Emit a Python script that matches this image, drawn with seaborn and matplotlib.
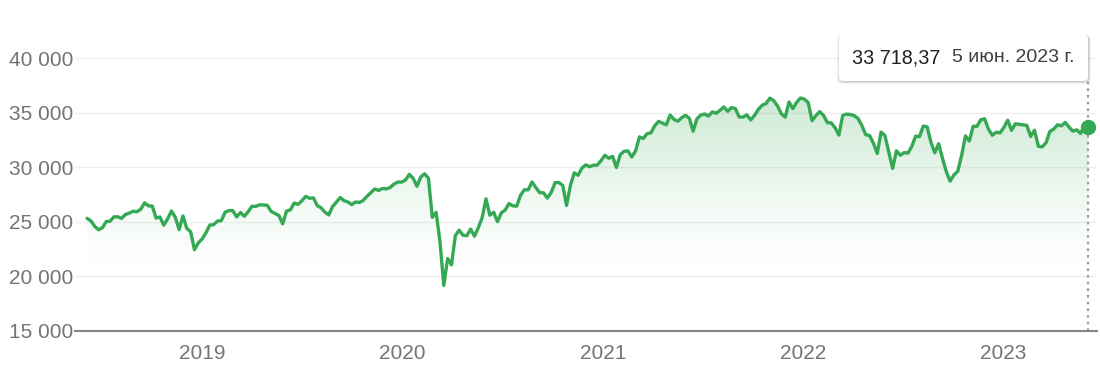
import numpy as np
import pandas as pd
import matplotlib.pyplot as plt
import matplotlib.dates as mdates
from matplotlib.colors import to_rgb
from matplotlib.patches import FancyBboxPatch
from matplotlib.ticker import FuncFormatter
from matplotlib.transforms import IdentityTransform
import seaborn as sns

# weekly closes, one value per Monday starting at start_week
start_week = '2018-06-04'
dow_2018 = [25317, 25090, 24581, 24271, 24456, 25019, 25058, 25451, 25463, 25313,
            25669, 25790, 25965, 25917, 26154, 26743, 26458, 26447, 25340, 25444,
            24688, 25271, 25989, 25413, 24286, 25538, 24389, 24101, 22445, 23062, 23433]
dow_2019 = [23996, 24706, 24737, 25064, 25106, 25883, 26031, 26026, 25450, 25849,
            25502, 25929, 26425, 26412, 26559, 26543, 26505, 25942, 25764, 25586,
            24815, 25984, 26090, 26719, 26600, 26922, 27332, 27154, 27192, 26485,
            26287, 25886, 25629, 26403, 26797, 27220, 26935, 26820, 26573, 26817,
            26770, 26958, 27347, 27681, 28005, 27876, 28051, 28015, 28135, 28455,
            28645, 28634]
dow_2020 = [28823, 29348, 28990, 28256, 29102, 29398, 28992, 25409, 25865, 23186,
            19174, 21637, 21053, 23719, 24242, 23775, 23724, 24331, 23685, 24465,
            25383, 27111, 25606, 25871, 25016, 25827, 26075, 26672, 26470, 26428,
            27433, 27931, 27930, 28654, 28133, 27666, 27657, 27174, 27683, 28586,
            28606, 28335, 26502, 28323, 29479, 29263, 29910, 30218, 30046, 30179,
            30199, 30606]
dow_2021 = [31097, 30814, 30997, 29983, 31148, 31458, 31494, 30932, 31496, 32779,
            32628, 33073, 33153, 33801, 34200, 34043, 33875, 34778, 34382, 34208,
            34529, 34756, 34480, 33290, 34433, 34786, 34870, 34688, 35062, 34935,
            35209, 35515, 35120, 35456, 35369, 34608, 34584, 34798, 34326, 34746,
            35295, 35677, 35820, 36328, 36100, 35602, 34899, 34580, 35971, 35365,
            35951, 36338]
dow_2022 = [36231, 35912, 34265, 34725, 35089, 34738, 34079, 34059, 33615, 32944,
            34755, 34861, 34818, 34721, 34451, 33811, 32977, 32899, 32197, 31262,
            33213, 32900, 31393, 29889, 31501, 31097, 31338, 31289, 31900, 32845,
            32803, 33761, 33707, 32283, 31318, 32152, 30822, 29590, 28726, 29297,
            29635, 31083, 32862, 32403, 33748, 33746, 34347, 34430, 33477, 32921,
            33204, 33147]
dow_2023 = [33631, 34303, 33375, 33978, 33926, 33869, 33827, 32817, 33391, 31910,
            31862, 32238, 33274, 33486, 33887, 33787, 34098, 33674, 33301, 33427,
            33093, 33762, 33718.37]

y_ticks = [15000, 20000, 25000, 30000, 35000, 40000]
tip_value = '33 718,37'
tip_date = '5 июн. 2023 г.'

green = '#34a853'
values = dow_2018 + dow_2019 + dow_2020 + dow_2021 + dow_2022 + dow_2023
df = pd.DataFrame({'date': pd.date_range(start_week, periods=len(values), freq='W-MON'),
                   'close': values})

sns.set_style('white')
plt.rcParams['font.family'] = ['Liberation Sans', 'DejaVu Sans']

W, H = 1100, 376
fig = plt.figure(figsize=(W / 100, H / 100), dpi=100)
ax = fig.add_axes([75 / W, 1 - 331 / H, 1022 / W, 311 / H])

sns.lineplot(data=df, x='date', y='close', color=green, linewidth=2.4, ax=ax, zorder=3)
ax.set_xlim(pd.Timestamp('2018-05-13'), pd.Timestamp('2023-06-21'))
ax.set_ylim(15000, 43480)

# soft vertical gradient under the line
poly = ax.fill_between(df['date'], df['close'], 15000, color='none', lw=0)
ys = np.linspace(15000, 37000, 256)
rgba = np.zeros((256, 1, 4))
rgba[..., :3] = to_rgb(green)
rgba[:, 0, 3] = 0.26 * np.clip((ys - 20500) / (37000 - 20500), 0, 1) ** 1.3
x0, x1 = mdates.date2num(df['date'].iloc[[0, -1]])
im = ax.imshow(rgba, extent=[x0, x1, 15000, 37000], origin='lower',
               aspect='auto', zorder=1, interpolation='bilinear')
im.set_clip_path(poly.get_paths()[0], transform=ax.transData)

ax.plot(df['date'].iloc[-1], df['close'].iloc[-1], 'o', color=green,
        markersize=10, zorder=4, clip_on=False)
ax.axvline(df['date'].iloc[-1], ymin=0, ymax=(331 - 82) / 311, color='#9aa0a6',
           linestyle=(0, (1.2, 1.8)), linewidth=1.6, zorder=2)

ax.set_xlabel('')
ax.set_ylabel('')
ax.set_yticks(y_ticks)
ax.yaxis.set_major_formatter(FuncFormatter(lambda v, p: f'{v:,.0f}'.replace(',', ' ')))
ax.xaxis.set_major_locator(mdates.YearLocator())
ax.xaxis.set_major_formatter(mdates.DateFormatter('%Y'))
ax.grid(axis='y', color='#efefef', linewidth=1)
ax.grid(axis='x', visible=False)
for s in ['top', 'right', 'left']:
    ax.spines[s].set_visible(False)
ax.spines['bottom'].set_color('#80868b')
ax.spines['bottom'].set_linewidth(1.5)
ax.tick_params(axis='x', length=6.5, width=1.5, color='#80868b',
               labelsize=15, labelcolor='#70757a', pad=3)
ax.tick_params(axis='y', length=0, labelsize=15, labelcolor='#70757a', pad=1)

# tooltip box (pixel coordinates)
bx, by, bw, bh = 839, H - 81, 249, 46
for off, a in [(3, 0.05), (2, 0.07), (1, 0.1)]:
    fig.patches.append(FancyBboxPatch((bx - off + 1, by - off), bw + 2 * off - 1, bh + off,
                                      boxstyle='round,pad=0,rounding_size=5',
                                      transform=IdentityTransform(), facecolor='#000000',
                                      alpha=a, edgecolor='none', zorder=5))
fig.patches.append(FancyBboxPatch((bx, by), bw, bh, boxstyle='round,pad=0,rounding_size=4',
                                  transform=IdentityTransform(), facecolor='white',
                                  edgecolor='none', zorder=6))
fig.text(852 / W, 1 - 58 / H, tip_value, ha='left', va='center', fontsize=14.2,
         color='#202124', zorder=7)
fig.text(952 / W, 1 - 58 / H, tip_date, ha='left', va='center', fontsize=14,
         color='#3c4043', zorder=7)

fig.savefig('out.png', dpi=100)
